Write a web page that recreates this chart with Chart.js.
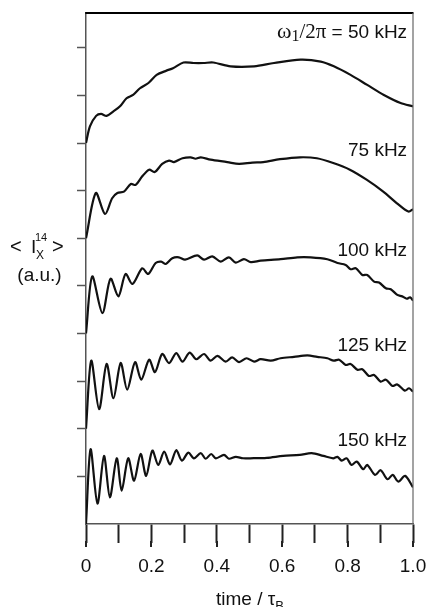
<!DOCTYPE html>
<html><head><meta charset="utf-8">
<script src="https://cdn.jsdelivr.net/npm/chart.js@4/dist/chart.umd.min.js"></script>
<style>html,body{margin:0;padding:0;background:#fff;}#wrap{width:429px;height:607px;}</style>
</head><body><div id="wrap"><canvas id="c" width="429" height="607"></canvas></div>
<script>
// ---- data (time / tau_B, <I_x^14> in a.u., curves offset by 2 units) ----
const t50 = [0,0.012,0.031,0.046,0.063,0.083,0.104,0.124,0.144,0.165,0.191,0.216,0.246,0.266,0.298,0.329,0.359,0.389,0.442,0.514,0.575,0.656,0.718,0.758,0.809,0.860,0.911,0.962,1.0];
const v50 = [8.0,8.35,8.57,8.61,8.57,8.66,8.77,8.94,9.01,9.15,9.26,9.43,9.52,9.57,9.69,9.68,9.68,9.69,9.61,9.61,9.68,9.75,9.71,9.61,9.43,9.22,9.01,8.84,8.77];

const t75 = [0,0.030,0.058,0.080,0.096,0.116,0.137,0.152,0.172,0.193,0.210,0.233,0.254,0.269,0.295,0.320,0.335,0.351,0.381,0.432,0.468,0.509,0.542,0.593,0.654,0.706,0.756,0.807,0.858,0.909,0.950,0.986,1.0];
const v75 = [6.0,6.95,6.51,6.84,6.95,6.98,7.14,7.12,7.30,7.44,7.39,7.56,7.63,7.60,7.68,7.70,7.67,7.70,7.65,7.60,7.56,7.59,7.60,7.66,7.70,7.68,7.58,7.44,7.23,6.98,6.74,6.56,6.61];

const t100 = [0,0.019,0.050,0.075,0.099,0.121,0.142,0.172,0.190,0.213,0.230,0.244,0.264,0.284,0.303,0.340,0.361,0.386,0.412,0.437,0.458,0.483,0.504,0.534,0.595,0.646,0.687,0.738,0.769,0.794,0.809,0.825,0.845,0.860,0.881,0.896,0.917,0.932,0.952,0.967,0.981,0.991,1.0];
const v100 = [4.0,5.20,4.43,5.15,4.78,5.25,5.04,5.37,5.25,5.48,5.51,5.46,5.58,5.60,5.55,5.64,5.55,5.62,5.51,5.60,5.49,5.56,5.50,5.53,5.56,5.60,5.60,5.56,5.48,5.44,5.35,5.37,5.23,5.23,5.09,5.07,4.95,4.93,4.81,4.78,4.73,4.76,4.69];

const t125 = [0,0.016,0.040,0.063,0.084,0.106,0.126,0.150,0.169,0.193,0.211,0.233,0.254,0.276,0.295,0.317,0.337,0.361,0.381,0.402,0.427,0.447,0.468,0.491,0.514,0.534,0.565,0.595,0.636,0.677,0.707,0.738,0.758,0.774,0.794,0.809,0.830,0.845,0.865,0.881,0.901,0.917,0.937,0.952,0.975,0.988,1.0];
const v125 = [2.0,3.43,2.41,3.36,2.64,3.38,2.82,3.40,3.03,3.45,3.19,3.57,3.38,3.59,3.41,3.60,3.46,3.57,3.43,3.53,3.41,3.50,3.40,3.48,3.41,3.46,3.43,3.48,3.51,3.54,3.51,3.48,3.43,3.45,3.34,3.36,3.24,3.25,3.11,3.13,2.99,3.03,2.90,2.93,2.80,2.85,2.78];

const t150 = [0,0.014,0.035,0.055,0.073,0.094,0.109,0.129,0.147,0.167,0.184,0.203,0.221,0.239,0.257,0.276,0.293,0.313,0.330,0.351,0.366,0.383,0.397,0.422,0.437,0.458,0.480,0.502,0.553,0.603,0.654,0.690,0.726,0.756,0.769,0.782,0.797,0.812,0.828,0.848,0.860,0.884,0.901,0.922,0.938,0.955,0.976,1.0];
const v150 = [0.0,1.57,0.43,1.43,0.56,1.38,0.70,1.38,0.91,1.47,1.01,1.54,1.24,1.52,1.25,1.55,1.33,1.50,1.38,1.49,1.37,1.47,1.38,1.45,1.37,1.41,1.38,1.38,1.39,1.43,1.45,1.49,1.43,1.38,1.41,1.33,1.38,1.24,1.31,1.15,1.24,1.03,1.13,0.94,1.03,0.89,1.01,0.77];

const seriesNames = ['50 kHz','75 kHz','100 kHz','125 kHz','150 kHz'];
const yTickValues = [1,2,3,4,5,6,7,8,9,10];
const xMajorTicks = [0,0.2,0.4,0.6,0.8,1.0];

const zip = (t, v) => t.slice(0, Math.min(t.length, v.length)).map((x, i) => ({x, y: v[i]}));
const series = [[t50,v50],[t75,v75],[t100,v100],[t125,v125],[t150,v150]];

// label anchor (in data units): right edge x, baseline y
const LABEL_X = 0.982;
const LABEL_Y = [10.21, 7.73, 5.63, 3.63, 1.64];

const SANS = '"Liberation Sans", Arial, Helvetica, sans-serif';
const SERIF = '"Liberation Serif", "Times New Roman", serif';

function drawRuns(ctx, runs, x, baseline, align) {
  let w = 0;
  for (const r of runs) { ctx.font = r.font; r.w = ctx.measureText(r.text).width; w += r.w; }
  let cx = align === 'right' ? x - w : (align === 'center' ? x - w / 2 : x);
  ctx.textAlign = 'left'; ctx.textBaseline = 'alphabetic';
  for (const r of runs) { ctx.font = r.font; ctx.fillText(r.text, cx, baseline + (r.dy || 0)); cx += r.w; }
}

const decor = {
  id: 'decor',
  afterDraw(chart) {
    const {ctx, chartArea: a, scales: {x, y}} = chart;
    ctx.save();
    // top frame (black) and right frame (grey)
    ctx.strokeStyle = '#000'; ctx.lineWidth = 2;
    ctx.beginPath(); ctx.moveTo(a.left - 0.75, a.top); ctx.lineTo(a.right + 0.5, a.top); ctx.stroke();
    ctx.strokeStyle = '#666'; ctx.lineWidth = 1.2;
    ctx.beginPath(); ctx.moveTo(a.right, a.top); ctx.lineTo(a.right, a.bottom); ctx.stroke();
    // longer major ticks on time axis
    ctx.strokeStyle = '#222'; ctx.lineWidth = 2;
    for (const v of xMajorTicks) {
      const px = Math.round(x.getPixelForValue(v));
      ctx.beginPath(); ctx.moveTo(px, a.bottom + 17); ctx.lineTo(px, a.bottom + 23); ctx.stroke();
    }
    ctx.fillStyle = '#111';
    // curve labels
    const lx = x.getPixelForValue(LABEL_X);
    seriesNames.forEach((name, i) => {
      const by = y.getPixelForValue(LABEL_Y[i]);
      if (i === 0) {
        drawRuns(ctx, [
          {text: 'ω', font: '22px ' + SERIF},
          {text: '1', font: '16px ' + SERIF, dy: 3},
          {text: '/2π', font: '21px ' + SERIF},
          {text: ' = ' + name, font: '19px ' + SANS}
        ], lx, by, 'right');
      } else {
        drawRuns(ctx, [{text: name, font: '19px ' + SANS}], lx, by, 'right');
      }
    });
    // y-axis title  < I_X^14 >  (a.u.)
    ctx.font = '20px ' + SANS; ctx.textAlign = 'left'; ctx.textBaseline = 'alphabetic';
    ctx.fillText('<', 10, 253);
    ctx.font = '19px ' + SANS; ctx.fillText('I', 31, 253);
    ctx.font = '11px ' + SANS; ctx.fillText('14', 35, 241);
    ctx.font = '12px ' + SANS; ctx.fillText('X', 36, 259);
    ctx.font = '20px ' + SANS; ctx.fillText('>', 52, 253);
    ctx.font = '19px ' + SANS; ctx.textAlign = 'center'; ctx.fillText('(a.u.)', 39.5, 281);
    // x-axis title  time / τ_B
    drawRuns(ctx, [
      {text: 'time / τ', font: '19px ' + SANS},
      {text: 'B', font: '13px ' + SANS, dy: 5}
    ], 216, 605, 'left');
    ctx.restore();
  }
};

new Chart(document.getElementById('c'), {
  type: 'line',
  data: {
    datasets: series.map((s, i) => ({
      label: seriesNames[i],
      data: zip(s[0], s[1]),
      borderColor: '#111', borderWidth: 2.2, pointRadius: 0, fill: false,
      tension: 0.3, capBezierPoints: true
    }))
  },
  options: {
    responsive: false, animation: false, devicePixelRatio: 1,
    layout: {padding: {top: 13, right: 16, left: 0, bottom: 0}},
    plugins: {legend: {display: false}, tooltip: {enabled: false}},
    scales: {
      x: {
        type: 'linear', min: 0, max: 1,
        afterFit(s) { s.height = 83; s.paddingLeft = 0; s.paddingRight = 0; },
        grid: {drawOnChartArea: false, tickLength: 19, tickColor: '#222', tickWidth: 2},
        border: {color: '#555', width: 1.5},
        ticks: {
          stepSize: 0.1, autoSkip: false, maxRotation: 0, padding: 12, color: '#111',
          font: {family: SANS, size: 19},
          callback: (v) => { const k = Math.round(v * 10); if (k % 2) return ''; return k === 0 ? '0' : (k / 10).toFixed(1); }
        }
      },
      y: {
        type: 'linear', min: 0, max: 10.73,
        afterFit(s) { s.width = 86; s.paddingTop = 0; s.paddingBottom = 0; },
        afterBuildTicks(s) { s.ticks = yTickValues.map(v => ({value: v})); },
        grid: {drawOnChartArea: false, tickLength: 9, tickColor: '#555', tickWidth: 1.5},
        border: {color: '#555', width: 1.5},
        ticks: {display: false}
      }
    }
  },
  plugins: [decor]
});
</script>
</body></html>
